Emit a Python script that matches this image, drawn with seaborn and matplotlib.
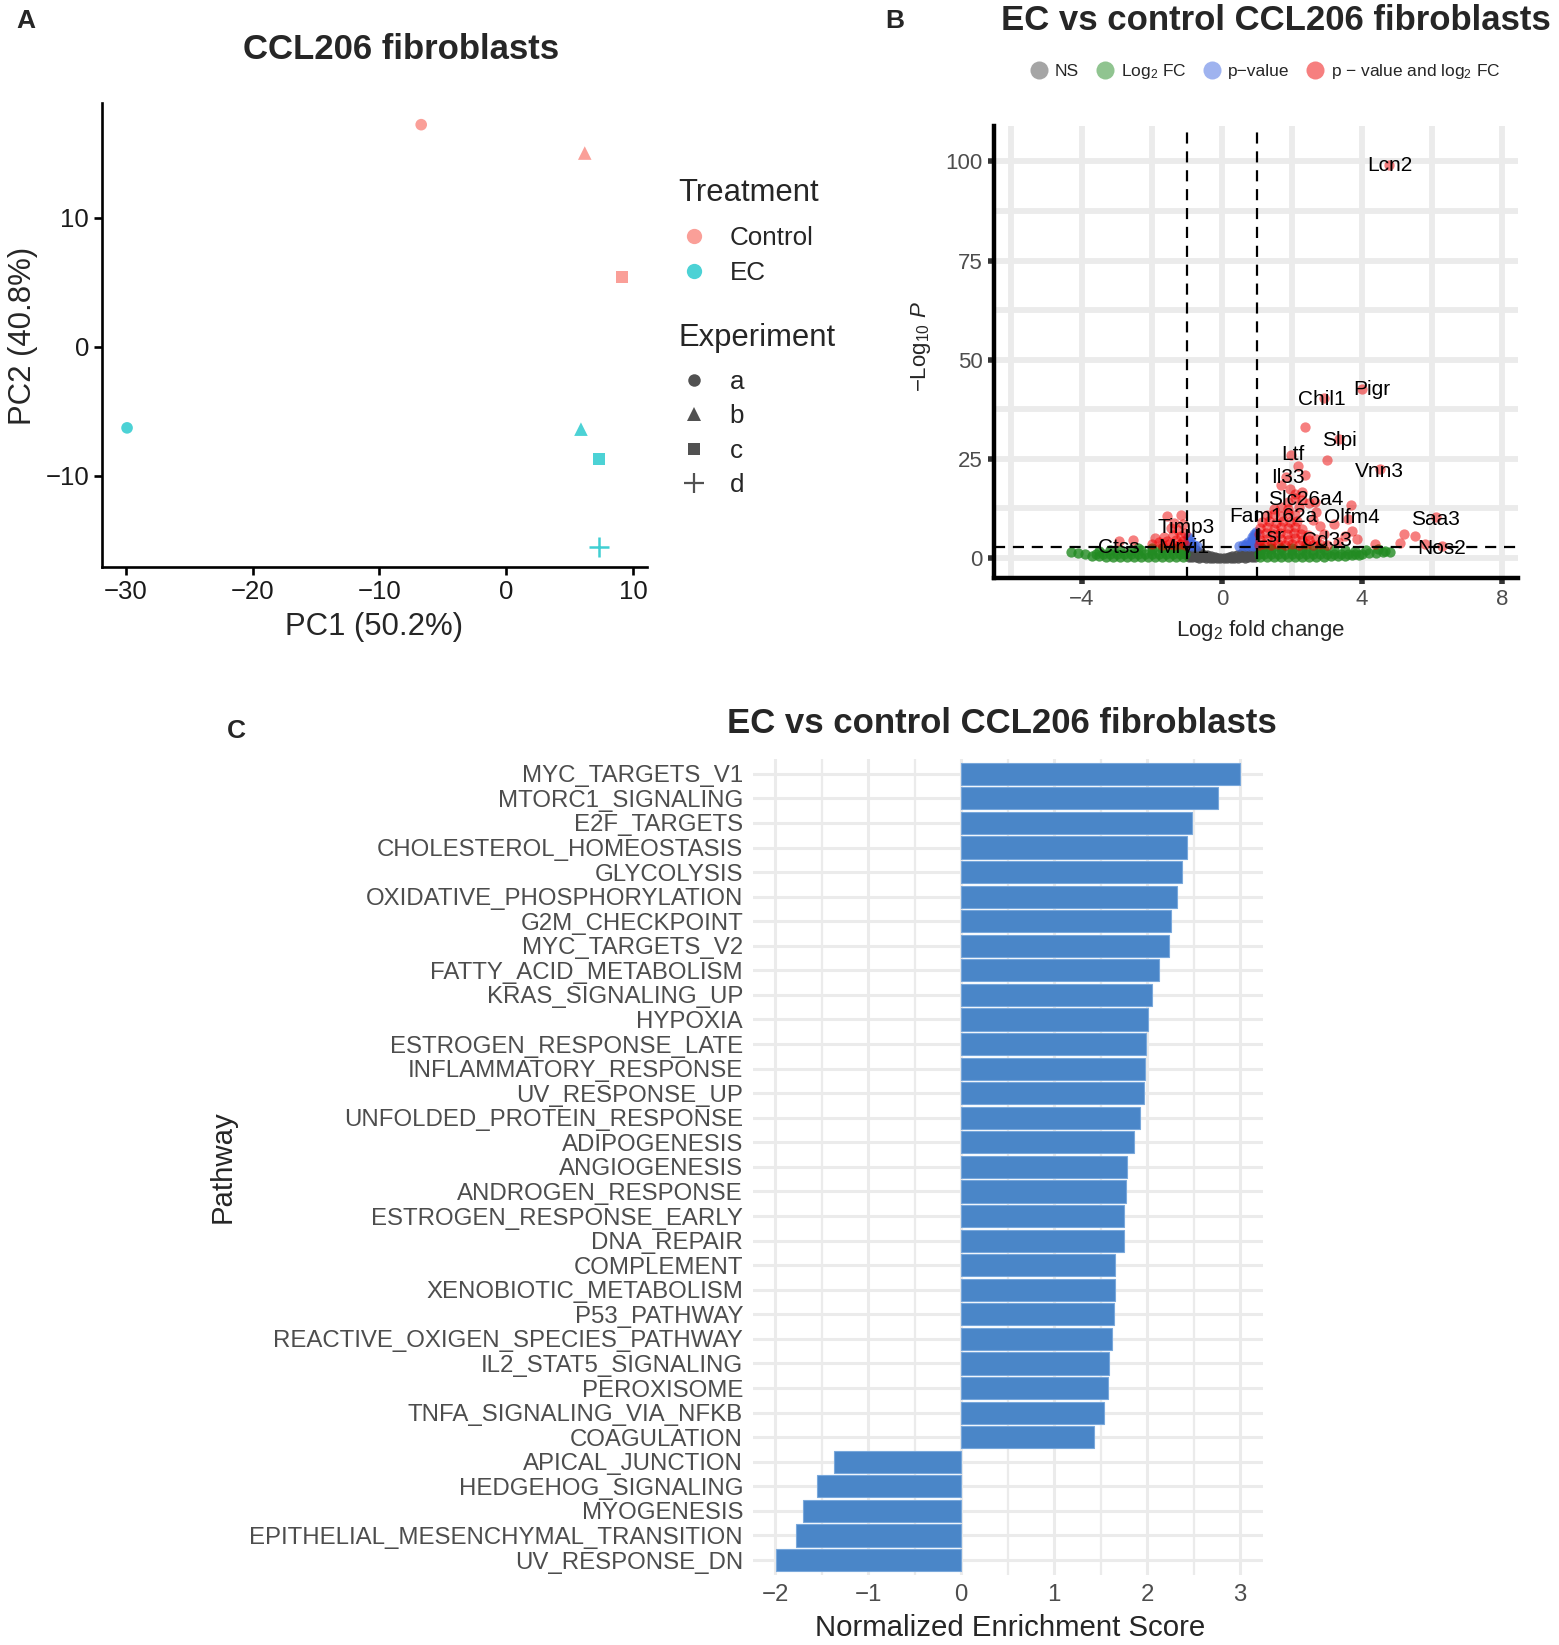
import matplotlib
matplotlib.use("Agg")
import numpy as np
import pandas as pd
import matplotlib.pyplot as plt
import seaborn as sns
from matplotlib.lines import Line2D
from matplotlib.ticker import MultipleLocator

# ── PANEL A: PCA ───────────────────────────────────────────
pca_pc1 = [-6.7, 6.2, 9.1, -29.9, 5.9, 7.3, 7.3]
pca_pc2 = [17.2, 15.0, 5.4, -6.3, -6.4, -8.7, -15.5]
pca_treatment = ["Control", "Control", "Control", "EC", "EC", "EC", "EC"]
pca_experiment = ["a", "b", "c", "a", "b", "c", "d"]

# ── PANEL B: volcano ───────────────────────────────────────
ns_x = [-0.95, -0.85, -0.75, -0.65, -0.55, -0.45, -0.35, -0.25, -0.15, -0.05,
        0.05, 0.15, 0.25, 0.35, 0.45, 0.55, 0.65, 0.75, 0.85, 0.95,
        -0.95, -0.82, -0.68, -0.55, -0.42, -0.3, 0.3, 0.42, 0.55, 0.68, 0.82, 0.95,
        -0.95, -0.83, -0.7, -0.58, 0.58, 0.7, 0.83, 0.95,
        -0.95, -0.85, -0.75, 0.75, 0.85, 0.95,
        -0.9, -0.6, -0.2, 0.2, 0.6, 0.9]
ns_y = [0.2, 0.1, 0.1, 0.0, 0.1, 0.0, 0.0, 0.0, -0.1, -0.1,
        -0.1, -0.1, 0.0, 0.0, 0.0, 0.1, 0.0, 0.1, 0.1, 0.2,
        1.0, 0.9, 0.9, 0.8, 0.7, 0.5, 0.5, 0.7, 0.8, 0.9, 0.9, 1.0,
        1.8, 1.7, 1.5, 1.3, 1.3, 1.5, 1.7, 1.8,
        2.5, 2.3, 2.1, 2.1, 2.3, 2.5,
        0.5, 0.4, 0.2, 0.2, 0.4, 0.5]

fc_x = [-3.7, -3.5, -3.3, -3.1, -2.9, -2.7, -2.5, -2.3, -2.1, -1.9, -1.7, -1.5, -1.3, -1.1,
        1.1, 1.3, 1.5, 1.7, 1.9, 2.1, 2.3, 2.5, 2.7, 2.9, 3.1, 3.3, 3.5, 3.7, 3.9,
        -4.3, -4.1, -3.9, -3.6, -3.4, -3.2, -3.0, -2.8, -2.6, -2.4, -2.2, -2.0, -1.8, -1.6,
        -1.4, -1.2, -1.05, 1.05, 1.2, 1.4, 1.6, 1.8, 2.0, 2.2, 2.4, 2.6, 2.8, 3.0, 3.2, 3.4,
        3.6, 3.8, 4.0, 4.2, 4.4, 4.6,
        -3.5, -3.2, -2.9, -2.6, -2.3, -2.0, -1.7, -1.4, -1.15,
        1.15, 1.4, 1.7, 2.0, 2.3, 2.6, 2.9, 3.2, 3.5, 3.8, 4.1,
        -2.4, -2.0, -1.7, -1.4, -1.15, 1.15, 1.4, 1.7, 2.0, 2.4, 2.8,
        4.65, 4.8, 4.45]
fc_y = [0.5, 0.4, 0.3, 0.3, 0.2, 0.3, 0.2, 0.2, 0.1, 0.2, 0.1, 0.1, 0.1, 0.1,
        0.1, 0.1, 0.1, 0.2, 0.2, 0.2, 0.2, 0.3, 0.3, 0.3, 0.4, 0.4, 0.5, 0.6, 0.7,
        1.5, 1.2, 1.0, 1.1, 1.0, 1.0, 1.1, 1.0, 1.0, 1.1, 1.0, 1.0, 1.1, 1.0,
        1.0, 1.1, 1.0, 1.0, 1.1, 1.0, 1.0, 1.1, 1.0, 1.0, 1.1, 1.0, 1.0, 1.1, 1.0, 1.0,
        1.1, 1.0, 1.1, 1.2, 1.3, 1.4,
        1.8, 1.9, 1.9, 2.0, 2.0, 2.1, 2.1, 2.2, 2.2,
        2.2, 2.2, 2.1, 2.1, 2.0, 2.0, 1.9, 1.9, 1.9, 1.8, 1.9,
        2.4, 2.5, 2.6, 2.6, 2.6, 2.6, 2.6, 2.6, 2.5, 2.5, 2.4,
        1.8, 1.4, 2.3]

p_x = [0.5, 0.6, 0.7, 0.8, 0.9, 0.95, 0.85, 0.75, 0.9, 0.95, 0.85, 0.97, 0.92, 0.65, 0.78, 0.9,
       -0.95, -0.88, -0.8, -0.95, -0.9, -0.97, -0.72, -0.85]
p_y = [3.0, 3.3, 3.6, 3.4, 3.2, 4.0, 4.3, 4.0, 5.0, 5.8, 5.2, 6.6, 6.0, 3.0, 3.0, 3.0,
       3.2, 3.6, 3.3, 4.2, 4.8, 5.3, 3.0, 3.0]

both_x = [-1.05, -1.2, -1.35, -1.5, -1.7, -1.1, -1.3, -1.55, -1.8, -1.15, -1.4, -1.65,
          -1.25, -1.45, -1.1, -1.37, -1.56, -1.15, -1.05, -2.0, -2.52, -2.94, -1.9,
          1.05, 1.2, 1.4, 1.6, 1.8, 2.0, 2.2, 2.4, 2.6, 2.8, 3.0,
          1.1, 1.3, 1.5, 1.7, 1.9, 2.1, 2.3, 2.5, 2.7,
          1.05, 1.25, 1.45, 1.65, 1.85, 2.05, 2.25, 2.45,
          1.1, 1.3, 1.5, 1.7, 1.9, 2.1, 2.3,
          1.15, 1.35, 1.55, 1.75, 1.95, 2.15,
          1.3, 1.5, 1.7, 1.9, 2.1,
          1.5, 1.7, 1.9, 2.2,
          1.9, 2.1, 2.3, 2.5,
          2.8, 2.7, 2.6, 3.7, 3.85, 3.69, 3.3, 3.5, 4.36, 5.07, 5.2, 5.5, 5.8, 6.1, 6.27,
          4.0, 2.9, 2.37, 3.35, 2.99, 1.98, 2.17, 2.37, 4.5, 1.83, 2.1, 2.3, 4.76,
          3.6, 3.2, 2.9, 2.65, 1.95, 1.7]
both_y = [3.2, 3.5, 3.3, 3.6, 3.2, 4.3, 4.6, 4.2, 4.0, 5.5, 5.8, 5.2,
          7.0, 7.5, 8.5, 8.9, 10.6, 10.8, 6.3, 3.4, 4.5, 4.2, 5.0,
          3.2, 3.4, 3.3, 3.5, 3.2, 3.4, 3.3, 3.5, 3.2, 3.4, 3.3,
          4.5, 4.8, 4.4, 4.7, 4.5, 4.9, 4.4, 4.6, 4.8,
          6.0, 6.3, 5.9, 6.2, 6.0, 6.4, 6.1, 5.8,
          7.5, 7.8, 7.4, 7.7, 7.5, 7.9, 7.3,
          9.0, 9.3, 8.9, 9.2, 9.0, 9.4,
          10.7, 11.0, 10.6, 11.2, 10.8,
          12.3, 12.8, 12.4, 12.9,
          14.0, 15.2, 14.5, 13.8,
          8.0, 11.5, 9.5, 6.8, 4.7, 13.3, 4.0, 5.5, 3.4, 3.8, 5.9, 5.5, 3.4, 10.2, 3.0,
          42.6, 40.3, 32.9, 30.0, 24.8, 26.0, 23.3, 21.0, 22.3, 20.3, 16.0, 16.5, 99.0,
          9.8, 8.5, 6.0, 14.0, 17.5, 18.5]

gene_labels = ["Lcn2", "Pigr", "Chil1", "Slpi", "Ltf", "Vnn3", "Il33", "Slc26a4",
               "Fam162a", "Olfm4", "Saa3", "Timp3", "Lsr", "Cd33", "Nos2", "Ctss", "Mrvi1"]
label_x = [4.79, 4.27, 2.85, 3.36, 2.03, 4.5, 1.89, 2.39, 1.48, 3.7, 6.08, -1.03, 1.37,
           3.0, 6.28, -2.95, -1.07]
label_y = [98.9, 42.6, 40.0, 29.7, 26.0, 21.7, 20.3, 14.7, 10.5, 10.3, 9.6, 7.6, 5.3,
           4.5, 2.4, 2.6, 2.6]

# ── PANEL C: GSEA hallmark ─────────────────────────────────
pathways = ["MYC_TARGETS_V1", "MTORC1_SIGNALING", "E2F_TARGETS", "CHOLESTEROL_HOMEOSTASIS",
            "GLYCOLYSIS", "OXIDATIVE_PHOSPHORYLATION", "G2M_CHECKPOINT", "MYC_TARGETS_V2",
            "FATTY_ACID_METABOLISM", "KRAS_SIGNALING_UP", "HYPOXIA", "ESTROGEN_RESPONSE_LATE",
            "INFLAMMATORY_RESPONSE", "UV_RESPONSE_UP", "UNFOLDED_PROTEIN_RESPONSE",
            "ADIPOGENESIS", "ANGIOGENESIS", "ANDROGEN_RESPONSE", "ESTROGEN_RESPONSE_EARLY",
            "DNA_REPAIR", "COMPLEMENT", "XENOBIOTIC_METABOLISM", "P53_PATHWAY",
            "REACTIVE_OXIGEN_SPECIES_PATHWAY", "IL2_STAT5_SIGNALING", "PEROXISOME",
            "TNFA_SIGNALING_VIA_NFKB", "COAGULATION", "APICAL_JUNCTION", "HEDGEHOG_SIGNALING",
            "MYOGENESIS", "EPITHELIAL_MESENCHYMAL_TRANSITION", "UV_RESPONSE_DN"]
nes = [3.00, 2.76, 2.48, 2.43, 2.38, 2.32, 2.26, 2.24, 2.13, 2.05, 2.01, 1.99,
       1.98, 1.97, 1.92, 1.86, 1.78, 1.77, 1.75, 1.75, 1.66, 1.65, 1.64, 1.62,
       1.59, 1.575, 1.54, 1.43, -1.37, -1.55, -1.70, -1.78, -1.99]

# ── ESTILO ─────────────────────────────────────────────────
sns.set_style("white")
plt.rcParams["font.family"] = ["Liberation Sans", "DejaVu Sans"]
plt.rcParams["mathtext.fontset"] = "custom"
plt.rcParams["mathtext.rm"] = "Liberation Sans"
plt.rcParams["mathtext.it"] = "Liberation Sans:italic"
plt.rcParams["mathtext.bf"] = "Liberation Sans:bold"

W, H = 1487.0, 1569.0  # coordenadas de referencia


def fx(px):
    return px / W


def fy(py):
    return 1 - py / H


fig = plt.figure(figsize=(15.59, 16.45), dpi=100)

# ══════════════════════════════════════════════════════════
# PANEL A
# ══════════════════════════════════════════════════════════
axA = fig.add_axes([fx(97), fy(541), fx(617) - fx(97), fy(98) - fy(541)])
pca = pd.DataFrame({"PC1": pca_pc1, "PC2": pca_pc2,
                    "Treatment": pca_treatment, "Experiment": pca_experiment})
pal_trt = {"Control": "#F8766D", "EC": "#00BFC4"}
shapes = {"a": "o", "b": "^", "c": "s", "d": "+"}
sizes = {"a": 70, "b": 95, "c": 75, "d": 220}
for exp, mk in shapes.items():
    sub = pca[pca["Experiment"] == exp]
    if mk == "+":
        for trt, g in sub.groupby("Treatment"):
            sns.scatterplot(x=g["PC1"], y=g["PC2"], marker="+", color=pal_trt[trt],
                            s=sizes[exp], linewidth=1.8, alpha=0.75, ax=axA, legend=False)
    else:
        sns.scatterplot(data=sub, x="PC1", y="PC2", hue="Treatment", palette=pal_trt,
                        marker=mk, s=sizes[exp], linewidth=0, alpha=0.7, ax=axA, legend=False)

axA.set_xlim(-31.9, 11.1)
axA.set_ylim(-17.1, 18.9)
axA.set_xticks([-30, -20, -10, 0, 10])
axA.set_yticks([-10, 0, 10])
axA.set_xticklabels(["\u221230", "\u221220", "\u221210", "0", "10"])
axA.set_yticklabels(["\u221210", "0", "10"])
for s in ["top", "right"]:
    axA.spines[s].set_visible(False)
for s in ["left", "bottom"]:
    axA.spines[s].set_color("black")
    axA.spines[s].set_linewidth(1.9)
axA.tick_params(axis="both", length=6, width=1.9, color="black", labelsize=18.5,
                labelcolor="#1a1a1a", direction="out", bottom=True, left=True, pad=3)
axA.set_xlabel("")
axA.set_ylabel("")
fig.text(fx(357), fy(598), "PC1 (50.2%)", ha="center", va="center", fontsize=22.4)
fig.text(fx(22), fy(320), "PC2 (40.8%)", ha="center", va="center", fontsize=22.4,
         rotation=90)
fig.text(fx(383), fy(47), "CCL206 fibroblasts", ha="center", va="center",
         fontsize=25, fontweight="bold")

# leyendas con título aparte para controlar el espaciado
fig.text(fx(647), fy(184), "Treatment", ha="left", va="center", fontsize=22.3)
fig.text(fx(647), fy(322), "Experiment", ha="left", va="center", fontsize=22.3)
h_trt = [Line2D([0], [0], marker="o", ls="", markersize=11, markeredgewidth=0,
                markerfacecolor=pal_trt[k], alpha=0.7) for k in ["Control", "EC"]]
leg1 = axA.legend(h_trt, ["Control", "EC"], loc="upper left",
                  bbox_to_anchor=(fx(650), fy(216)), bbox_transform=fig.transFigure,
                  frameon=False, fontsize=18.7, labelspacing=0.4, borderpad=0,
                  handlelength=1.0, handletextpad=0.85, borderaxespad=0)
axA.add_artist(leg1)
exp_mk = {"a": ("o", 9), "b": ("^", 10), "c": ("s", 8.5), "d": ("+", 15)}
h_exp = [Line2D([0], [0], marker=m, ls="", markersize=ms, markeredgewidth=1.6 if m == "+" else 0,
                color="#333333", markerfacecolor="#333333", alpha=0.85)
         for m, ms in exp_mk.values()]
leg2 = axA.legend(h_exp, list(exp_mk.keys()), loc="upper left",
                  bbox_to_anchor=(fx(650), fy(353)), bbox_transform=fig.transFigure,
                  frameon=False, fontsize=18.7, labelspacing=0.4, borderpad=0,
                  handlelength=1.0, handletextpad=0.85, borderaxespad=0)

# ══════════════════════════════════════════════════════════
# PANEL B
# ══════════════════════════════════════════════════════════
axB = fig.add_axes([fx(948), fy(551), fx(1448) - fx(948), fy(120) - fy(551)])
volc_col = {"NS": "#4D4D4D", "Log2 FC": "#228B22", "p-value": "#4169E1",
            "both": "#EE0000"}
volc_alpha = {"NS": 0.9, "Log2 FC": 0.8, "p-value": 0.65, "both": 0.5}
groups = [("NS", ns_x, ns_y), ("Log2 FC", fc_x, fc_y), ("p-value", p_x, p_y),
          ("both", both_x, both_y)]
volcano = pd.concat([pd.DataFrame({"log2fc": gx, "nlogp": gy, "grupo": g})
                     for g, gx, gy in groups], ignore_index=True)
for g, _, _ in groups:
    sub = volcano[volcano["grupo"] == g]
    sns.scatterplot(data=sub, x="log2fc", y="nlogp", color=volc_col[g], s=55,
                    linewidth=0, alpha=volc_alpha[g], ax=axB, legend=False, zorder=3)

axB.axvline(-1, color="black", ls=(0, (5, 3.5)), lw=1.6, zorder=4)
axB.axvline(1, color="black", ls=(0, (5, 3.5)), lw=1.6, zorder=4)
axB.axhline(2.8, color="black", ls=(0, (5, 3.5)), lw=1.6, zorder=4)

for lab, lx, ly in zip(gene_labels, label_x, label_y):
    axB.text(lx, ly, lab, ha="center", va="center", fontsize=15, color="black", zorder=5)

axB.set_xlim(-6.5, 8.45)
axB.set_ylim(-5, 109)
axB.set_xticks([-4, 0, 4, 8])
axB.set_xticklabels(["\u22124", "0", "4", "8"])
axB.set_xticks([-6, -2, 2, 6], minor=True)
axB.set_yticks([0, 25, 50, 75, 100])
axB.set_yticks([12.5, 37.5, 62.5, 87.5], minor=True)
axB.set_axisbelow(True)
axB.grid(which="both", color="#EBEBEB", lw=4.2, zorder=0)
for s in ["top", "right"]:
    axB.spines[s].set_visible(False)
for s in ["left", "bottom"]:
    axB.spines[s].set_color("black")
    axB.spines[s].set_linewidth(3.2)
axB.tick_params(axis="both", which="major", length=4, width=4, color="#333333",
                labelsize=16, labelcolor="#4D4D4D", bottom=True, left=True, pad=4)
axB.tick_params(axis="both", which="minor", length=0)
axB.set_xlabel("")
axB.set_ylabel("")
fig.text(fx(1202), fy(601), r"Log$_2$ fold change", ha="center", va="center", fontsize=16)
fig.text(fx(878), fy(330), r"$-\mathrm{Log}_{10}\ \mathit{P}$", ha="center", va="center",
         fontsize=16, rotation=90)
fig.text(fx(1217), fy(20), "EC vs control CCL206 fibroblasts", ha="center", va="center",
         fontsize=25, fontweight="bold")

h_volc = [Line2D([0], [0], marker="o", ls="", markersize=13, markeredgewidth=0,
                 markerfacecolor=volc_col[g], alpha=0.5) for g, _, _ in groups]
l_volc = ["NS", r"Log$_2$ FC", "p\u2212value", r"p $-$ value and log$_2$ FC"]
fig.legend(h_volc, l_volc, loc="center", bbox_to_anchor=(fx(1207), fy(68)), ncol=4,
           frameon=False, fontsize=12.5, handlelength=1.0, handletextpad=0.4,
           columnspacing=1.0, borderaxespad=0)

# ══════════════════════════════════════════════════════════
# PANEL C
# ══════════════════════════════════════════════════════════
axC = fig.add_axes([fx(718), fy(1502), fx(1205) - fx(718), fy(724) - fy(1502)])
gsea = pd.DataFrame({"Pathway": pathways, "NES": nes})
sns.barplot(data=gsea, x="NES", y="Pathway", order=pathways, orient="h",
            color="#4A86C8", saturation=1, width=0.9, edgecolor="#79A8DB",
            linewidth=0.8, ax=axC, zorder=3)
axC.set_xlim(-2.24, 3.25)
axC.set_ylim(len(pathways) - 1 + 0.6, -0.6)
axC.set_xticks([-2, -1, 0, 1, 2, 3])
axC.set_xticklabels(["\u22122", "\u22121", "0", "1", "2", "3"])
axC.xaxis.set_minor_locator(MultipleLocator(0.5))
axC.set_axisbelow(True)
axC.grid(which="major", axis="both", color="#EBEBEB", lw=2.2, zorder=0)
axC.grid(which="minor", axis="x", color="#EBEBEB", lw=1.6, zorder=0)
for s in axC.spines.values():
    s.set_visible(False)
axC.tick_params(axis="both", which="both", length=0, labelsize=17.3,
                labelcolor="#4D4D4D", pad=7)
axC.set_xlabel("")
axC.set_ylabel("")
fig.text(fx(963), fy(1553), "Normalized Enrichment Score", ha="center", va="center",
         fontsize=21.2)
fig.text(fx(212), fy(1113), "Pathway", ha="center", va="center", fontsize=21.2,
         rotation=90)
fig.text(fx(956), fy(690), "EC vs control CCL206 fibroblasts", ha="center", va="center",
         fontsize=25, fontweight="bold")

# ── Letras de panel ──
fig.text(fx(25), fy(20), "A", ha="center", va="center", fontsize=19, fontweight="bold")
fig.text(fx(853), fy(20), "B", ha="center", va="center", fontsize=19, fontweight="bold")
fig.text(fx(225), fy(697), "C", ha="center", va="center", fontsize=19, fontweight="bold")

fig.savefig("out.png", dpi=100)
